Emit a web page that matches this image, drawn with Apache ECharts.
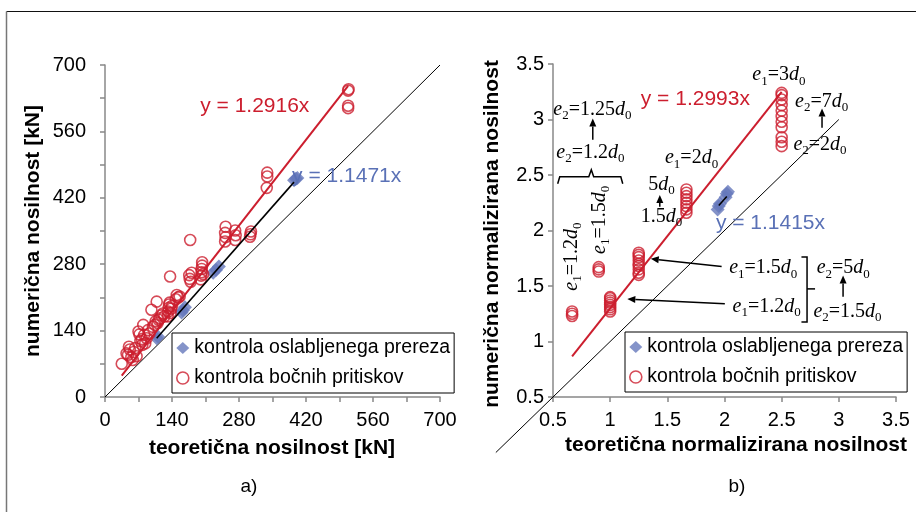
<!DOCTYPE html>
<html>
<head>
<meta charset="utf-8">
<script src="https://cdn.jsdelivr.net/npm/echarts@6/dist/echarts.min.js"></script>
<style>
html, body { margin: 0; padding: 0; background: #fff; }
#chart { width: 916px; height: 512px; }
</style>
</head>
<body>
<div id="chart"></div>
<script>
// ---- tick labels ----
const forceTicks = [0, 140, 280, 420, 560, 700];
const normTicks = [0.5, 1, 1.5, 2, 2.5, 3, 3.5];

// ---- series names ----
const seriesNames = ['kontrola oslabljenega prereza', 'kontrola bočnih pritiskov'];

// ---- fitted slopes, y = k·x : [net section, bearing] ----
const forceSlopes = [1.1471, 1.2916];
const normSlopes = [1.1415, 1.2993];

// ---- x extent of each fitted line ----
const forceSectionSpan = [108, 395];
const forceBearingSpan = [35, 508];
const normSectionSpan = [1.95, 2.02];
const normBearingSpan = [0.667, 2.5];

// ---- reference line y = x ----
const forceDiagonal = [[0, 0], [700, 700]];
const normDiagonal = [[0, 0], [3, 3]];

// ---- a) theoretical vs numerical capacity [kN] ----
const forceSection = [
  [108, 124], [111, 127], [160, 178], [163, 183], [167, 189],
  [226, 262], [232, 268], [238, 275], [395, 457], [399, 460], [402, 462]
];
const forceBearing = [
  [35, 70], [45, 92], [48, 89], [50, 106], [52, 100], [55, 84], [58, 78], [60, 95], [63, 103], [66, 86],
  [70, 138], [72, 132], [74, 118], [77, 122], [78, 110], [80, 152], [82, 131], [84, 113], [87, 124], [90, 141], [93, 134],
  [97, 184], [100, 148], [104, 152], [106, 160], [108, 201], [110, 156], [112, 163], [115, 166], [118, 172], [121, 176], [124, 170],
  [131, 170], [132, 180], [133, 188], [134, 195], [135, 199], [136, 254], [137, 177], [138, 186], [140, 192],
  [148, 206], [150, 215], [153, 210], [156, 212],
  [176, 257], [177, 249], [178, 331], [179, 243], [181, 262],
  [200, 248], [201, 256], [202, 263], [202, 270], [203, 277], [203, 284], [205, 259],
  [251, 328], [252, 337], [251, 346], [252, 359],
  [272, 331], [273, 341], [272, 351],
  [303, 338], [304, 343], [305, 349],
  [338, 441], [339, 465], [339, 473],
  [508, 609], [508, 614], [508, 646], [509, 649]
];

// ---- b) normalised capacities ----
const normSection = [
  [1.94, 2.19], [1.95, 2.22], [1.96, 2.24], [2.01, 2.30], [2.02, 2.33], [2.03, 2.35]
];
const normBearing = [
  [0.667, 1.23], [0.667, 1.25], [0.667, 1.27],
  [0.9, 1.63], [0.9, 1.65], [0.9, 1.67],
  [1.0, 1.27], [1.0, 1.29], [1.0, 1.31], [1.0, 1.33], [1.0, 1.35], [1.0, 1.37], [1.0, 1.39], [1.0, 1.40],
  [1.25, 1.60], [1.25, 1.62], [1.25, 1.65], [1.25, 1.68], [1.25, 1.70], [1.25, 1.73], [1.25, 1.76], [1.25, 1.78], [1.25, 1.80],
  [1.667, 2.16], [1.667, 2.19], [1.667, 2.22], [1.667, 2.25], [1.667, 2.28], [1.667, 2.31], [1.667, 2.34], [1.667, 2.37],
  [2.5, 2.76], [2.5, 2.80], [2.5, 2.84], [2.5, 2.93], [2.5, 2.98], [2.5, 3.03], [2.5, 3.08], [2.5, 3.13], [2.5, 3.18], [2.5, 3.22], [2.5, 3.24]
];

// ---- styling ----
const RED = '#cc1e2e';
const BLUE = '#6578bb';
const BLUE_TEXT = '#5a71b6';
const AXIS_GRAY = '#888888';
const SANS = 'Liberation Sans';
const SERIF = 'Liberation Serif';

const fmt = v => String(Math.round(v * 1000) / 1000);
const fitLine = (k, span) => span.map(x => [x, k * x]);

function axisBase(min, max, interval, labels, margin) {
  return {
    type: 'value', min, max, interval,
    axisLine: { show: true, onZero: false, lineStyle: { color: AXIS_GRAY, width: 1.5 } },
    axisTick: { show: true, inside: false, length: 5, lineStyle: { color: AXIS_GRAY, width: 1.5 } },
    axisLabel: {
      margin, fontSize: 20, color: '#000', fontFamily: SANS,
      formatter: v => (labels.some(t => Math.abs(t - v) < 1e-9) ? fmt(v) : '')
    },
    splitLine: { show: false }
  };
}

function seriesFor(ax, section, bearing, slopes, secSpan, bearSpan, diagonal) {
  const c = { xAxisIndex: ax, yAxisIndex: ax, animation: false, silent: true };
  const list = [
    Object.assign({
      type: 'scatter', name: seriesNames[0], data: section, symbol: 'diamond', symbolSize: 14,
      itemStyle: { color: BLUE }, z: 3
    }, c),
    Object.assign({
      type: 'scatter', name: seriesNames[1], data: bearing, symbol: 'circle', symbolSize: 11,
      itemStyle: { color: 'rgba(0,0,0,0)', borderColor: RED, borderWidth: 1.6 }, z: 4
    }, c),
    Object.assign({
      type: 'line', name: 'fitB' + ax, data: fitLine(slopes[1], bearSpan), showSymbol: false, symbol: 'none',
      lineStyle: { color: RED, width: 2 }, z: 5
    }, c),
    Object.assign({
      type: 'line', name: 'fitS' + ax, data: fitLine(slopes[0], secSpan), showSymbol: false, symbol: 'none',
      lineStyle: { color: '#000', width: 1.6 }, z: 5
    }, c)
  ];
  if (diagonal) {
    list.unshift(Object.assign({
      type: 'line', name: 'diag' + ax, data: diagonal, showSymbol: false, symbol: 'none',
      lineStyle: { color: '#000', width: 1 }, z: 2
    }, c));
  }
  return list;
}

function legendAt(left, top) {
  return {
    left, top, orient: 'vertical', selectedMode: false,
    backgroundColor: '#fff', borderColor: '#000', borderWidth: 1,
    padding: [5, 4, 5, 4], itemGap: 10, itemWidth: 13, itemHeight: 12,
    textStyle: { fontSize: 19.5, color: '#000', fontFamily: SANS, lineHeight: 20 },
    data: [
      { name: seriesNames[0], icon: 'diamond', itemStyle: { color: BLUE } },
      { name: seriesNames[1], icon: 'circle',
        itemStyle: { color: 'rgba(0,0,0,0)', borderColor: RED, borderWidth: 1.6 } }
    ],
    z: 10
  };
}

const option = {
  backgroundColor: '#fff',
  animation: false,
  grid: [
    { left: 105, top: 65, width: 335, height: 332 },
    { left: 553, top: 64, width: 343, height: 333 }
  ],
  xAxis: [
    axisBase(0, 700, 70, forceTicks, 13),
    Object.assign(axisBase(0.5, 3.5, 0.5, normTicks, 13), { gridIndex: 1 })
  ],
  yAxis: [
    axisBase(0, 700, 70, forceTicks, 19),
    Object.assign(axisBase(0.5, 3.5, 0.5, normTicks, 9), { gridIndex: 1 })
  ],
  legend: [legendAt(172, 333), legendAt(625, 332)],
  series: [
    ...seriesFor(0, forceSection, forceBearing, forceSlopes, forceSectionSpan, forceBearingSpan, forceDiagonal),
    ...seriesFor(1, normSection, normBearing, normSlopes, normSectionSpan, normBearingSpan, null)
  ]
};

const chart = echarts.init(document.getElementById('chart'), null, { renderer: 'canvas' });
chart.setOption(option);

// ---- overlay text, arrows and braces, placed in axis units ----
const toPx = (ax, p) => chart.convertToPixel({ xAxisIndex: ax, yAxisIndex: ax }, p);

const rich = {
  i: { fontFamily: SERIF, fontSize: 20, fontStyle: 'italic', fill: '#000' },
  s: { fontFamily: SERIF, fontSize: 13, fill: '#000', padding: [12, 0, 0, 0] }
};
const ed = (e, idx, val) => `{i|${e}}{s|${idx}}=${val}{i|d}{s|0}`;
const dOnly = val => `${val}{i|d}{s|0}`;

// notes on panel b): [text, x, y, rotated]
const notes = [
  [ed('e', 1, '3'), 2.476, 3.40, false],
  [ed('e', 2, '7'), 2.850, 3.163, false],
  [ed('e', 2, '2'), 2.835, 2.772, false],
  [ed('e', 2, '1.25'), 0.845, 3.088, false],
  [ed('e', 2, '1.2'), 0.827, 2.703, false],
  [ed('e', 1, '1.2'), 0.661, 1.765, true],
  [ed('e', 1, '1.5'), 0.909, 2.096, true],
  [dOnly('5'), 1.449, 2.412, false],
  [dOnly('1.5'), 1.449, 2.126, false],
  [ed('e', 1, '2'), 1.712, 2.652, false],
  [ed('e', 1, '1.5'), 2.339, 1.660, false],
  [ed('e', 1, '1.2'), 2.369, 1.314, false],
  [ed('e', 2, '5'), 3.039, 1.660, false],
  [ed('e', 2, '1.5'), 3.076, 1.269, false]
];

// arrows on panel b): [from, to]
const arrows = [
  [[2.853, 2.926], [2.853, 3.10]],
  [[0.848, 2.817], [0.848, 3.01]],
  [[1.434, 2.213], [1.434, 2.32]],
  [[1.975, 1.675], [1.355, 1.745]],
  [[2.003, 1.339], [1.150, 1.382]],
  [[3.037, 1.404], [3.037, 1.595]]
];

// braces on panel b)
const braces = [
  [[0.541, 2.421], [0.559, 2.484], [0.813, 2.484], [0.835, 2.547], [0.856, 2.484], [1.093, 2.484], [1.110, 2.421]],
  [[2.673, 1.762], [2.722, 1.762], [2.722, 1.176], [2.673, 1.176]],
  [[2.722, 1.474], [2.792, 1.474]]
];

const g = [];

// outer frame
g.push({ type: 'line', shape: { x1: 6.5, y1: 11.5, x2: 916, y2: 11.5 }, style: { stroke: '#111', lineWidth: 1.2 }, z: 20 });
g.push({ type: 'line', shape: { x1: 6.5, y1: 11.5, x2: 6.5, y2: 512 }, style: { stroke: '#777', lineWidth: 1.5 }, z: 20 });

// y = x on panel b) runs past the axes down to the origin
{
  const a = toPx(1, normDiagonal[0]), b = toPx(1, normDiagonal[1]);
  g.push({ type: 'line', shape: { x1: a[0], y1: a[1], x2: b[0], y2: b[1] }, style: { stroke: '#000', lineWidth: 1 }, z: 1 });
}

// axis titles and panel captions
function title(text, x, y, rot, size, bold) {
  g.push({
    type: 'text', x, y, rotation: rot ? Math.PI / 2 : 0, z: 20,
    style: { text, fontFamily: SANS, fontSize: size, fontWeight: bold ? 'bold' : 'normal', fill: '#000',
      align: 'center', verticalAlign: 'middle' }
  });
}
title('numerična nosilnost [kN]', 33, 231, true, 21, true);
title('teoretična nosilnost [kN]', 272, 448, false, 21, true);
title('numerična normalizirana nosilnost', 492, 234, true, 21, true);
title('teoretična normalizirana nosilnost', 736, 445, false, 21, true);
title('a)', 249, 487, false, 19, false);
title('b)', 737, 487, false, 19, false);

// fitted-line equations
function equation(ax, k, x, y, color) {
  const p = toPx(ax, [x, y]);
  g.push({
    type: 'text', x: p[0], y: p[1], z: 21,
    style: { text: 'y = ' + k + 'x', fontFamily: SANS, fontSize: 21, fill: color, align: 'center', verticalAlign: 'middle' }
  });
}
equation(0, forceSlopes[1], 313, 613, RED);
equation(0, forceSlopes[0], 505, 465, BLUE_TEXT);
equation(1, normSlopes[1], 1.745, 3.184, RED);
equation(1, normSlopes[0], 2.402, 2.069, BLUE_TEXT);

// notes
notes.forEach(([text, x, y, rot]) => {
  const p = toPx(1, [x, y]);
  g.push({
    type: 'text', x: p[0], y: p[1], rotation: rot ? Math.PI / 2 : 0, z: 21,
    style: { text, rich, fontFamily: SERIF, fontSize: 20, fill: '#000', align: 'center', verticalAlign: 'middle' }
  });
});

// arrows
arrows.forEach(([a, b]) => {
  const p1 = toPx(1, a), p2 = toPx(1, b);
  const dx = p2[0] - p1[0], dy = p2[1] - p1[1];
  const len = Math.hypot(dx, dy), ux = dx / len, uy = dy / len;
  const hl = 8, hw = 3.5;
  const bx = p2[0] - ux * hl, by = p2[1] - uy * hl;
  g.push({ type: 'line', shape: { x1: p1[0], y1: p1[1], x2: bx, y2: by }, style: { stroke: '#000', lineWidth: 1.5 }, z: 21 });
  g.push({
    type: 'polygon', z: 21,
    shape: { points: [[p2[0], p2[1]], [bx - uy * hw, by + ux * hw], [bx + uy * hw, by - ux * hw]] },
    style: { fill: '#000' }
  });
});

// braces
braces.forEach(pts => {
  g.push({ type: 'polyline', shape: { points: pts.map(p => toPx(1, p)) }, style: { stroke: '#000', lineWidth: 1.5, fill: null }, z: 21 });
});

chart.setOption({ graphic: g });
</script>
</body>
</html>
